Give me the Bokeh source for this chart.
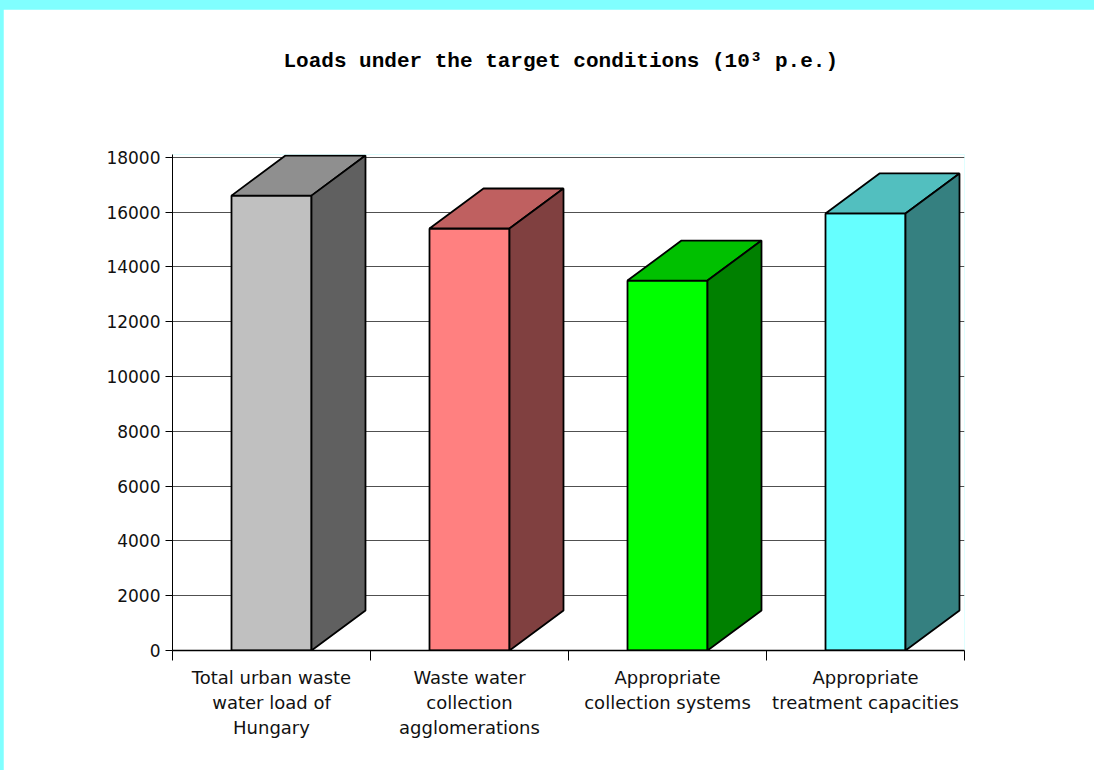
from bokeh.plotting import figure
from bokeh.models import Range1d, FixedTicker, Title
from bokeh.layouts import column
from bokeh.embed import file_html
from bokeh.resources import INLINE

# ---- data ----
title_text = "Loads under the target conditions (10³ p.e.)"
categories = ["Total urban waste\nwater load of\nHungary",
              "Waste water\ncollection\nagglomerations",
              "Appropriate\ncollection systems",
              "Appropriate\ntreatment capacities"]
values = [16600, 15400, 13500, 15950]
front_colors = ["#C0C0C0", "#FF8080", "#00FF00", "#66FFFF"]
top_colors = ["#8F8F8F", "#BF6060", "#00C000", "#52BFBF"]
side_colors = ["#606060", "#804040", "#008000", "#358080"]
y_ticks = [0, 2000, 4000, 6000, 8000, 10000, 12000, 14000, 16000, 18000]

# ---- geometry (3D look) ----
bar_w = 0.404
dx = 0.2727
dy = 1460

centers = [i + 0.5 for i in range(len(values))]
left = [c - bar_w / 2 for c in centers]
right = [c + bar_w / 2 for c in centers]

top_xs = [[l, r, r + dx, l + dx] for l, r in zip(left, right)]
top_ys = [[v, v, v + dy, v + dy] for v in values]
side_xs = [[r, r + dx, r + dx, r] for r in right]
side_ys = [[0, dy, v + dy, v] for v in values]

p = figure(width=1091, height=761, output_backend="svg", toolbar_location=None,
           x_range=Range1d(0, 4), y_range=Range1d(0, 18100))
p.title.visible = False
p.margin = (9, 0, 0, 3)
p.min_border_left = 169
p.min_border_right = 130
p.min_border_top = 145
p.min_border_bottom = 120
p.outline_line_color = None
p.background_fill_color = "white"
p.border_fill_color = "white"

# white (invisible) spacer next to the frame, then the real title above it
spacer = Title(text=".", text_font_size="10px", text_color="white", standoff=67)
p.add_layout(spacer, "above")
main_title = Title(text=title_text, text_font="Liberation Mono", text_font_style="bold",
                   text_font_size="21px", align="left", offset=111, standoff=10,
                   text_color="black")
p.add_layout(main_title, "above")

p.quad(left=left, right=right, bottom=0, top=values, fill_color=front_colors,
       line_color="black", line_width=1.8)
p.patches(top_xs, top_ys, fill_color=top_colors, line_color="black", line_width=1.8)
p.patches(side_xs, side_ys, fill_color=side_colors, line_color="black", line_width=1.8)

# y axis
p.yaxis.ticker = FixedTicker(ticks=y_ticks)
p.yaxis.minor_tick_line_color = None
p.yaxis.major_tick_out = 7
p.yaxis.major_tick_in = 0
p.yaxis.major_label_standoff = 5
p.yaxis.major_label_text_font = "DejaVu Sans"
p.yaxis.major_label_text_font_size = "17px"
p.yaxis.major_label_text_color = "#111111"
p.yaxis.axis_line_color = "black"
p.yaxis.major_tick_line_color = "black"
p.ygrid.grid_line_color = "#505050"
p.ygrid.ticker = FixedTicker(ticks=y_ticks)

# x axis
p.xaxis.ticker = FixedTicker(ticks=centers, minor_ticks=[0, 1, 2, 3, 4])
p.xaxis.major_label_overrides = {c: lab for c, lab in zip(centers, categories)}
p.xaxis.major_tick_line_color = None
p.xaxis.minor_tick_line_color = "black"
p.xaxis.minor_tick_out = 10
p.xaxis.minor_tick_in = 0
p.xaxis.major_label_standoff = 6
p.xaxis.major_label_text_font = "DejaVu Sans"
p.xaxis.major_label_text_font_size = "18px"
p.xaxis.major_label_text_color = "#111111"
p.xaxis.axis_line_color = "black"
p.xaxis.axis_line_width = 1.5
p.xgrid.grid_line_color = None

layout = column(p, styles={"background-color": "#80FFFF"})

open("out.html", "w").write(file_html(layout, INLINE))
